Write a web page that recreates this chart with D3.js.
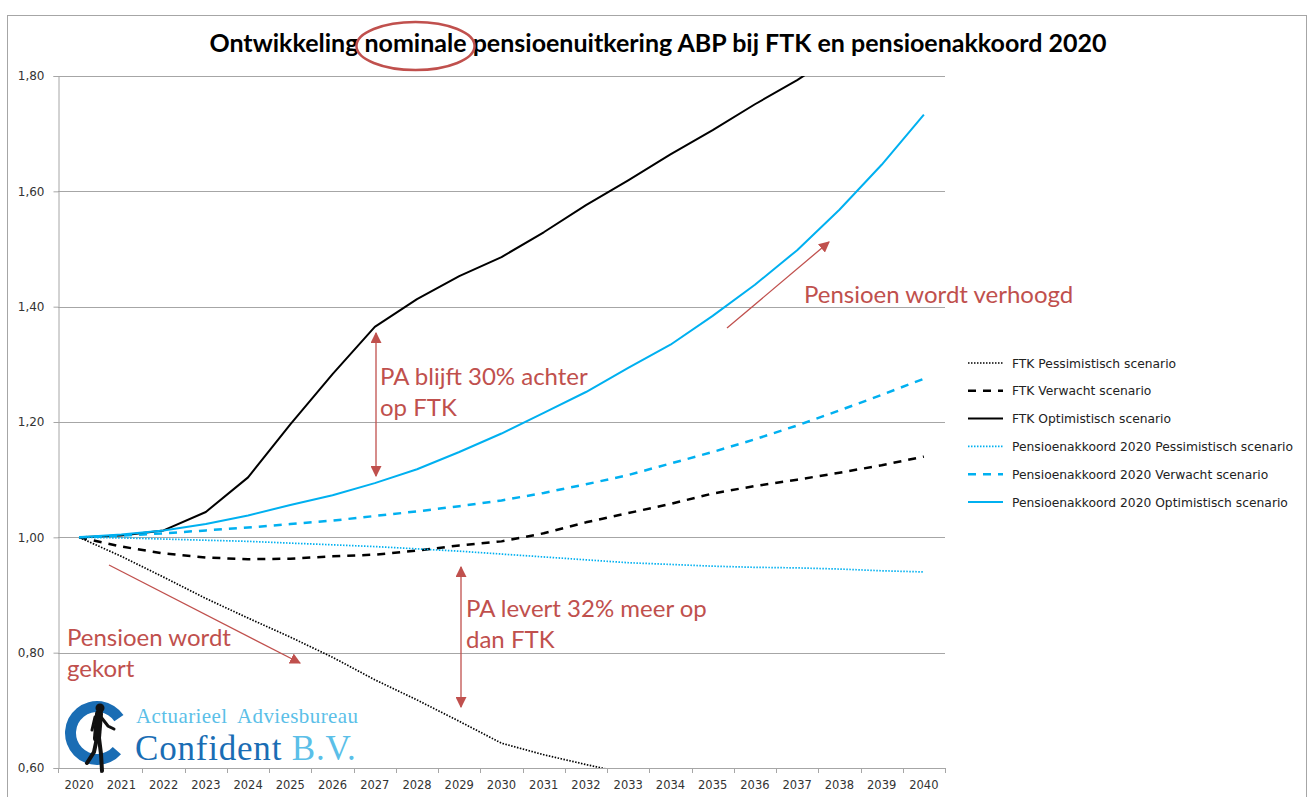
<!DOCTYPE html>
<html>
<head>
<meta charset="utf-8">
<script src="https://cdn.jsdelivr.net/npm/d3@7.9.0/dist/d3.min.js"></script>
<style>
  body { margin: 0; background: #fff; }
  svg { display: block; }
</style>
</head>
<body>
<div id="chart"></div>
<script>
const years = [2020, 2021, 2022, 2023, 2024, 2025, 2026, 2027, 2028, 2029, 2030,
               2031, 2032, 2033, 2034, 2035, 2036, 2037, 2038, 2039, 2040];
const yTicks = [0.60, 0.80, 1.00, 1.20, 1.40, 1.60, 1.80];

// values (null = outside the visible range)
const ftkPessimistisch = [1.000, 0.967, 0.931, 0.894, 0.860, 0.827, 0.792, 0.753, 0.718, 0.681, 0.643,
                          0.623, 0.606, 0.590, null, null, null, null, null, null, null];
const ftkVerwacht = [1.000, 0.984, 0.972, 0.965, 0.962, 0.963, 0.967, 0.970, 0.977, 0.986, 0.993,
                     1.007, 1.026, 1.042, 1.058, 1.076, 1.089, 1.100, 1.112, 1.125, 1.140];
const ftkOptimistisch = [1.000, 1.003, 1.012, 1.044, 1.104, 1.196, 1.283, 1.365, 1.413, 1.453, 1.486,
                         1.529, 1.576, 1.619, 1.664, 1.706, 1.751, 1.793, 1.840, null, null];
const paPessimistisch = [1.000, 0.999, 0.997, 0.995, 0.993, 0.990, 0.987, 0.984, 0.980, 0.976, 0.971,
                         0.966, 0.961, 0.956, 0.953, 0.950, 0.948, 0.947, 0.945, 0.942, 0.940];
const paVerwacht = [1.000, 1.003, 1.007, 1.012, 1.017, 1.023, 1.029, 1.037, 1.045, 1.054, 1.064,
                    1.077, 1.092, 1.108, 1.128, 1.148, 1.170, 1.194, 1.220, 1.247, 1.275];
const paOptimistisch = [1.000, 1.005, 1.012, 1.023, 1.038, 1.056, 1.073, 1.094, 1.118, 1.148, 1.180,
                        1.216, 1.252, 1.294, 1.334, 1.384, 1.438, 1.498, 1.568, 1.646, 1.733];

const seriesNames = ["FTK Pessimistisch scenario", "FTK Verwacht scenario", "FTK Optimistisch scenario",
                     "Pensioenakkoord 2020 Pessimistisch scenario", "Pensioenakkoord 2020 Verwacht scenario",
                     "Pensioenakkoord 2020 Optimistisch scenario"];

// title in three parts so the circled word can be located
const titleParts = ["Ontwikkeling ", "nominale", " pensioenuitkering ABP bij FTK en pensioenakkoord 2020"];

const BLUE = "#00b0f0";
const RED = "#c0504d";
const GRID = "#a6a6a6";

const series = [
  { name: seriesNames[0], values: ftkPessimistisch, color: "#000", dash: "1.5,1.5", width: 1.7 },
  { name: seriesNames[1], values: ftkVerwacht, color: "#000", dash: "8,7", width: 2.5 },
  { name: seriesNames[2], values: ftkOptimistisch, color: "#000", dash: null, width: 2 },
  { name: seriesNames[3], values: paPessimistisch, color: BLUE, dash: "1.5,1.5", width: 1.7 },
  { name: seriesNames[4], values: paVerwacht, color: BLUE, dash: "8,7", width: 2.5 },
  { name: seriesNames[5], values: paOptimistisch, color: BLUE, dash: null, width: 2 }
];

const width = 1310, height = 797;
const plot = { left: 58, right: 945, top: 76, bottom: 768 };

const svg = d3.select("#chart").append("svg")
  .attr("width", width)
  .attr("height", height);

// outer chart frame
svg.append("rect")
  .attr("x", 7.5).attr("y", 15.5)
  .attr("width", 1299).attr("height", 820)
  .attr("fill", "none")
  .attr("stroke", GRID);

const x = d3.scaleBand().domain(years).range([plot.left, plot.right]).padding(0);
const y = d3.scaleLinear().domain([0.6, 1.8]).range([plot.bottom, plot.top]);
const cx = d => x(d) + x.bandwidth() / 2;

const nl = d3.formatLocale({ decimal: ",", thousands: ".", grouping: [3], currency: ["€", ""] });
const fmt = nl.format(".2f");

// gridlines
svg.append("g").selectAll("line")
  .data(yTicks)
  .join("line")
  .attr("x1", plot.left).attr("x2", plot.right)
  .attr("y1", d => Math.round(y(d)) + 0.5).attr("y2", d => Math.round(y(d)) + 0.5)
  .attr("stroke", GRID);

// y axis
const yAxis = svg.append("g")
  .attr("transform", `translate(${plot.left + 0.5},0)`)
  .call(d3.axisLeft(y).tickValues(yTicks).tickFormat(fmt).tickSize(5).tickPadding(9));
yAxis.select(".domain").attr("stroke", GRID);
yAxis.selectAll(".tick line").attr("stroke", GRID);
yAxis.selectAll(".tick text")
  .attr("fill", "#333")
  .style("font-family", "DejaVu Sans")
  .style("font-size", "12px");

// x axis: labels centred, ticks on category boundaries
const xAxis = svg.append("g")
  .attr("transform", `translate(0,${plot.bottom})`)
  .call(d3.axisBottom(x).tickSize(0).tickPadding(13));
xAxis.select(".domain").remove();
xAxis.selectAll(".tick text")
  .attr("fill", "#333")
  .style("font-family", "DejaVu Sans")
  .style("font-size", "11.5px");

svg.append("g").selectAll("line")
  .data(d3.range(years.length + 1))
  .join("line")
  .attr("x1", i => Math.round(plot.left + i * x.bandwidth()) + 0.5)
  .attr("x2", i => Math.round(plot.left + i * x.bandwidth()) + 0.5)
  .attr("y1", plot.bottom).attr("y2", plot.bottom + 5)
  .attr("stroke", GRID);

// lines
svg.append("clipPath").attr("id", "clip")
  .append("rect")
  .attr("x", plot.left).attr("y", plot.top)
  .attr("width", plot.right - plot.left).attr("height", plot.bottom - plot.top);

const line = d3.line()
  .defined(d => d.v != null)
  .x(d => cx(d.year))
  .y(d => y(d.v));

svg.append("g").attr("clip-path", "url(#clip)")
  .selectAll("path")
  .data(series)
  .join("path")
  .attr("d", s => line(s.values.map((v, i) => ({ year: years[i], v }))))
  .attr("fill", "none")
  .attr("stroke", s => s.color)
  .attr("stroke-width", s => s.width)
  .attr("stroke-dasharray", s => s.dash)
  .attr("stroke-linejoin", "round");

// legend
const legend = svg.append("g").selectAll("g")
  .data(series)
  .join("g")
  .attr("transform", (d, i) => `translate(968,${363 + i * 27.8})`);

legend.append("line")
  .attr("x1", 0).attr("x2", 35)
  .attr("stroke", d => d.color)
  .attr("stroke-width", d => d.width)
  .attr("stroke-dasharray", d => d.dash);

legend.append("text")
  .attr("x", 44).attr("y", 4.5)
  .style("font-family", "DejaVu Sans")
  .style("font-size", "12.3px")
  .attr("fill", "#222")
  .text(d => d.name);

// title + red ellipse around "nominale"
const titleText = svg.append("text")
  .attr("x", 658).attr("y", 52)
  .attr("text-anchor", "middle")
  .style("font-family", "Lato")
  .style("font-weight", "bold")
  .style("font-size", "25px");
titleParts.forEach(p => titleText.append("tspan").text(p));
const nStart = titleText.node().getStartPositionOfChar(titleParts[0].length);
const nEnd = titleText.node().getEndPositionOfChar(titleParts[0].length + titleParts[1].length - 1);

svg.append("ellipse")
  .attr("cx", (nStart.x + nEnd.x) / 2).attr("cy", 46)
  .attr("rx", (nEnd.x - nStart.x) / 2 + 8).attr("ry", 24)
  .attr("fill", "none")
  .attr("stroke", RED)
  .attr("stroke-width", 2.5);

// annotations
const defs = svg.append("defs");
defs.append("marker")
  .attr("id", "head")
  .attr("viewBox", "0 0 10 10")
  .attr("refX", 9).attr("refY", 5)
  .attr("markerWidth", 11).attr("markerHeight", 11)
  .attr("markerUnits", "userSpaceOnUse")
  .attr("orient", "auto-start-reverse")
  .append("path")
  .attr("d", "M0,0L10,5L0,10Z")
  .attr("fill", RED);

function arrow(x1, y1, x2, y2, both) {
  const l = svg.append("line")
    .attr("x1", x1).attr("y1", y1).attr("x2", x2).attr("y2", y2)
    .attr("stroke", RED).attr("stroke-width", 1.3)
    .attr("marker-end", "url(#head)");
  if (both) l.attr("marker-start", "url(#head)");
}

arrow(727, 328, 829, 242, false);
arrow(376, 333, 376, 476, true);
arrow(461, 567, 461, 707, true);
arrow(109, 565, 300, 663, false);

function note(xp, yp, lines) {
  const t = svg.append("text")
    .attr("x", xp).attr("y", yp)
    .attr("fill", RED)
    .style("font-family", "Lato")
    .style("font-size", "24px");
  lines.forEach((s, i) => t.append("tspan").attr("x", xp).attr("dy", i ? 31 : 0).text(s));
}

note(804, 303, ["Pensioen wordt verhoogd"]);
note(380, 385, ["PA blijft 30% achter", "op FTK"]);
note(466, 617, ["PA levert 32% meer op", "dan FTK"]);
note(67, 646, ["Pensioen wordt", "gekort"]);

// logo
const logo = svg.append("g");
logo.append("path")
  .attr("transform", "translate(97,733)")
  .attr("d", d3.arc().innerRadius(21).outerRadius(32).startAngle(0.73 * Math.PI).endAngle(2.31 * Math.PI)())
  .attr("fill", "#1a6db4");

const fig = logo.append("g").attr("stroke", "#111").attr("stroke-linecap", "round").attr("fill", "none");
logo.append("circle").attr("cx", 100).attr("cy", 708).attr("r", 4.5).attr("fill", "#111");
fig.append("path").attr("d", "M99,714 L97,738").attr("stroke-width", 8);
fig.append("path").attr("d", "M101,717 L108,726 L114,729").attr("stroke-width", 3);
fig.append("path").attr("d", "M95,717 L92,730").attr("stroke-width", 3);
fig.append("path").attr("d", "M97,738 L94,752 L87,763").attr("stroke-width", 4);
fig.append("path").attr("d", "M99,738 L101,754 L102,771").attr("stroke-width", 4);

logo.append("text")
  .attr("x", 136).attr("y", 723)
  .attr("fill", "#5bbfe8")
  .style("font-family", "Liberation Serif")
  .style("font-size", "21px")
  .style("word-spacing", "5px")
  .style("letter-spacing", "0.4px")
  .text("Actuarieel Adviesbureau");

const conf = logo.append("text")
  .attr("x", 135).attr("y", 760)
  .style("font-family", "Liberation Serif")
  .style("font-size", "35px")
  .style("letter-spacing", "0.8px");
conf.append("tspan").attr("fill", "#1a6db4").text("Confident ");
conf.append("tspan").attr("fill", "#5bbfe8").text("B.V.");
</script>
</body>
</html>
